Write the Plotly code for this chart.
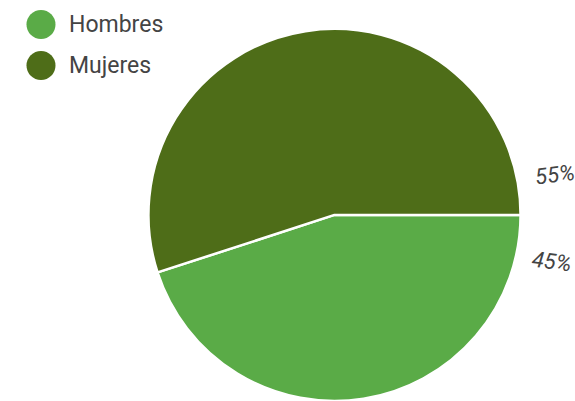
import plotly.graph_objects as go

labels = ["Hombres", "Mujeres"]
values = [45, 55]
colors = ["#5aab47", "#4e6d18"]

W, H = 575, 401
total = sum(values)
pcts = [f"{round(v / total * 100)}%" for v in values]

fig = go.Figure()
fig.add_trace(go.Pie(
    labels=labels, values=values, sort=False, direction="clockwise", rotation=90,
    marker=dict(colors=colors, line=dict(color="white", width=2.5)),
    textinfo="none", hoverinfo="label+percent", showlegend=False,
    domain=dict(x=[148 / W, 521 / W], y=[0.0, 0.928]),
))

shapes = []
annotations = []
legend_y = [24.5, 65.5]
for i, lab in enumerate(labels):
    cy = legend_y[i]
    r = 14.5
    shapes.append(dict(type="circle", xref="paper", yref="paper",
                       x0=(41 - r) / W, x1=(41 + r) / W,
                       y0=1 - (cy + r) / H, y1=1 - (cy - r) / H,
                       fillcolor=colors[i], line=dict(width=0)))
    annotations.append(dict(text=lab, xref="paper", yref="paper",
                            x=67 / W, y=1 - cy / H, xanchor="left", yanchor="middle",
                            showarrow=False,
                            font=dict(family="Roboto", size=23, color="#444444")))

# percentage labels (Hombres lower, Mujeres upper)
pct_pos = {0: (552, 261), 1: (555, 174)}
pct_angle = {0: 7, 1: -7}
for i, p in enumerate(pcts):
    x, y = pct_pos[i]
    annotations.append(dict(text=f"<i>{p}</i>", xref="paper", yref="paper",
                            x=x / W, y=1 - y / H, xanchor="center", yanchor="middle",
                            textangle=pct_angle[i], showarrow=False,
                            font=dict(family="Roboto", size=22, color="#444444")))

fig.update_layout(
    width=W, height=H, margin=dict(l=0, r=0, t=0, b=0),
    paper_bgcolor="white", plot_bgcolor="white",
    shapes=shapes, annotations=annotations,
)
fig.write_html("out.html", config={"displayModeBar": False},
               post_script="document.body.style.margin='0';")
